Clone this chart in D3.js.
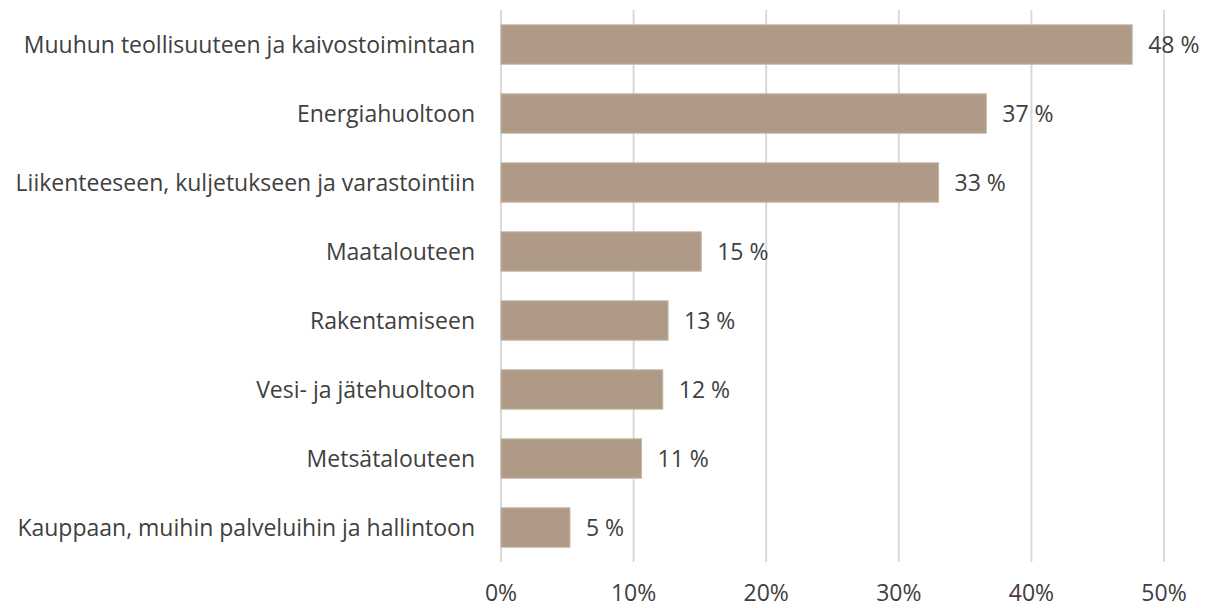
<!DOCTYPE html>
<html>
<head>
<meta charset="utf-8">
<script src="https://cdn.jsdelivr.net/npm/d3@7"></script>
<style>
  body { margin: 0; background: #fff; }
  text { font-family: "Open Sans", "Noto Sans", sans-serif; fill: #404040; }
</style>
</head>
<body>
<div id="chart"></div>
<script>
var width = 1207
var height = 608

// categories, top to bottom
var categories = [
  "Muuhun teollisuuteen ja kaivostoimintaan",
  "Energiahuoltoon",
  "Liikenteeseen, kuljetukseen ja varastointiin",
  "Maatalouteen",
  "Rakentamiseen",
  "Vesi- ja jätehuoltoon",
  "Metsätalouteen",
  "Kauppaan, muihin palveluihin ja hallintoon"
];
// share of respondents (%)
var values = [47.6, 36.6, 33.0, 15.1, 12.6, 12.2, 10.6, 5.2];
var valueLabels = ["48 %", "37 %", "33 %", "15 %", "13 %", "12 %", "11 %", "5 %"];
var ticks = [0, 10, 20, 30, 40, 50];
var tickLabels = ["0%", "10%", "20%", "30%", "40%", "50%"];

var fontSize = 23;

const svg = d3.select("#chart").append("svg")
    .attr("width", width)
    .attr("height", height);

const x = d3.scaleLinear().domain([0, 50]).range([501, 1164]);
const y = d3.scaleBand().domain(categories).range([10, 562])
    .paddingInner(0.43).paddingOuter(0.215);

// vertical gridlines
svg.append("g")
  .selectAll("line")
  .data(ticks)
  .join("line")
    .attr("x1", d => x(d)).attr("x2", d => x(d))
    .attr("y1", 10).attr("y2", 562)
    .attr("stroke", "#d9d9d9")
    .attr("stroke-width", 2);

// tick labels
svg.append("g")
  .selectAll("text")
  .data(ticks)
  .join("text")
    .attr("x", d => x(d))
    .attr("y", 601)
    .attr("text-anchor", "middle")
    .attr("font-size", fontSize)
    .text((d, i) => tickLabels[i]);

// bars
svg.append("g")
  .selectAll("rect")
  .data(values)
  .join("rect")
    .attr("x", x(0))
    .attr("y", (d, i) => y(categories[i]))
    .attr("width", d => x(d) - x(0))
    .attr("height", y.bandwidth())
    .attr("fill", "#ae9a86")
    .attr("stroke", "#c4b5a6")
    .attr("stroke-width", 1);

// category labels
svg.append("g")
  .selectAll("text")
  .data(categories)
  .join("text")
    .attr("x", 475)
    .attr("y", d => y(d) + y.bandwidth() / 2)
    .attr("dy", "0.35em")
    .attr("text-anchor", "end")
    .attr("font-size", fontSize)
    .text(d => d);

// value labels
svg.append("g")
  .selectAll("text")
  .data(values)
  .join("text")
    .attr("x", d => x(d) + 16)
    .attr("y", (d, i) => y(categories[i]) + y.bandwidth() / 2)
    .attr("dy", "0.35em")
    .attr("font-size", fontSize)
    .text((d, i) => valueLabels[i]);
</script>
</body>
</html>
